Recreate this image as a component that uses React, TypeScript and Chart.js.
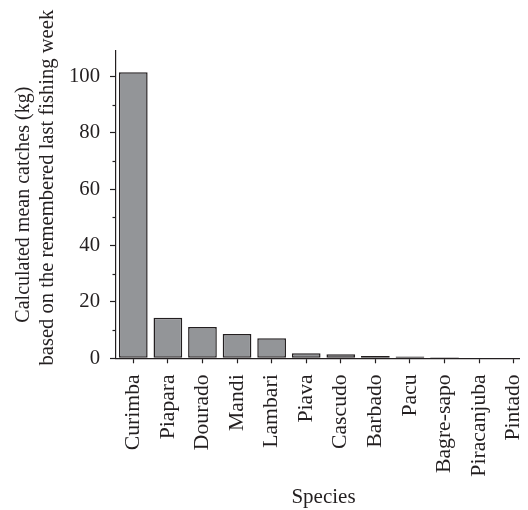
import React, { useEffect, useRef } from 'react';
import { Chart, registerables } from 'chart.js';

Chart.register(...registerables);

const categories = ['Curimba', 'Piapara', 'Dourado', 'Mandi', 'Lambari', 'Piava', 'Cascudo', 'Barbado', 'Pacu', 'Bagre-sapo', 'Piracanjuba', 'Pintado'];
const meanCatchKg = [101.5, 14.4, 11.1, 8.6, 7.1, 1.8, 1.4, 0.8, 0.6, 0.35, 0, 0];
const yMinorTicks = [10, 30, 50, 70, 90];
const yTitleLines = ['Calculated mean catches (kg)', 'based on the remembered last fishing week'];
const xTitle = 'Species';

const INK = '#231f20';
const FILL = '#939598';
const FONT = '"Liberation Serif", "Times New Roman", serif';

const annotPlugin = {
  id: 'annot',
  afterDraw(chart: any) {
    const ctx = chart.ctx;
    const y = chart.scales.y;
    const area = chart.chartArea;
    ctx.save();
    ctx.strokeStyle = INK;
    ctx.lineWidth = 1.2;
    yMinorTicks.forEach((v) => {
      const py = Math.round(y.getPixelForValue(v)) + 0.5;
      ctx.beginPath();
      ctx.moveTo(area.left - 3.5, py);
      ctx.lineTo(area.left, py);
      ctx.stroke();
    });
    ctx.fillStyle = INK;
    ctx.textAlign = 'center';
    ctx.textBaseline = 'alphabetic';
    const cy = (area.top + area.bottom) / 2;
    const pos = [
      { x: 20.5, y: cy, size: 20 },
      { x: 44.5, y: cy - 17, size: 20.6 },
    ];
    yTitleLines.forEach((t, i) => {
      ctx.save();
      ctx.font = `${pos[i].size}px ${FONT}`;
      ctx.translate(pos[i].x, pos[i].y);
      ctx.rotate(-Math.PI / 2);
      ctx.fillText(t, 0, 0);
      ctx.restore();
    });
    ctx.restore();
  },
};

export default function App() {
  const ref = useRef<HTMLCanvasElement>(null);
  useEffect(() => {
    if (!ref.current) return;
    const chart = new Chart(ref.current, {
      type: 'bar',
      data: {
        labels: categories,
        datasets: [
          {
            data: meanCatchKg,
            backgroundColor: FILL,
            borderColor: INK,
            borderWidth: 1.5,
            borderSkipped: false,
            barPercentage: 0.83,
            categoryPercentage: 1,
          },
        ],
      },
      options: {
        responsive: false,
        animation: false,
        devicePixelRatio: 1,
        layout: { padding: { top: 43, left: 0, right: 0, bottom: 0 } },
        plugins: { legend: { display: false }, tooltip: { enabled: false } },
        scales: {
          x: {
            type: 'category',
            grid: {
              display: true,
              drawOnChartArea: false,
              drawTicks: true,
              tickLength: 5,
              tickColor: INK,
              tickWidth: 1.2,
              offset: false,
            },
            border: { display: true, color: INK, width: 1.2 },
            ticks: {
              color: INK,
              font: { family: FONT, size: 21.7 },
              minRotation: 90,
              maxRotation: 90,
              autoSkip: false,
              padding: 11,
            },
            title: {
              display: true,
              text: xTitle,
              color: INK,
              font: { family: FONT, size: 21 },
              padding: { top: 0, bottom: 0 },
            },
            afterFit(scale: any) {
              scale.height = 151.7;
              scale.paddingLeft = 0;
              scale.paddingRight = 0;
            },
          },
          y: {
            type: 'linear',
            min: 0,
            max: 109,
            grid: {
              display: true,
              drawOnChartArea: false,
              drawTicks: true,
              tickLength: 6,
              tickColor: INK,
              tickWidth: 1.2,
            },
            border: { display: true, color: INK, width: 1.2 },
            ticks: {
              stepSize: 20,
              includeBounds: false,
              color: INK,
              font: { family: FONT, size: 20.7 },
              padding: 10,
            },
            afterFit(scale: any) {
              scale.width = 108;
            },
          },
        },
      },
      plugins: [annotPlugin],
    });
    return () => chart.destroy();
  }, []);
  return (
    <div style={{ width: 520, height: 502, overflow: 'hidden' }}>
      <canvas ref={ref} width={523} height={502} style={{ display: 'block' }} />
    </div>
  );
}
